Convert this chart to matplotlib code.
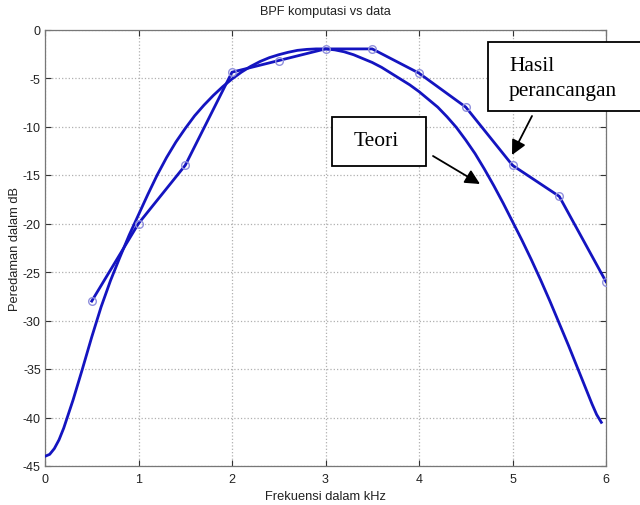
import matplotlib
matplotlib.use("Agg")
import matplotlib.pyplot as plt
from matplotlib.patches import Rectangle, FancyArrowPatch

plt.rcParams["axes.unicode_minus"] = False

# ---- data ----
freq_hasil = [0.5, 1.0, 1.5, 2.0, 2.5, 3.0, 3.5, 4.0, 4.5, 5.0, 5.5, 6.0]
db_hasil = [-28.0, -20.0, -14.0, -4.4, -3.2, -2.0, -2.0, -4.5, -8.0, -14.0, -17.2, -26.0]

freq_teori = [0.0, 0.05, 0.1, 0.15, 0.2, 0.3, 0.4, 0.5, 0.6, 0.7, 0.8, 0.9, 1.0, 1.1, 1.2,
              1.3, 1.4, 1.5, 1.6, 1.7, 1.8, 1.9, 2.0, 2.1, 2.2, 2.3, 2.4, 2.5, 2.6, 2.7,
              2.8, 2.9, 3.0, 3.1, 3.2, 3.3, 3.4, 3.5, 3.6, 3.7, 3.8, 3.9, 4.0, 4.1, 4.2,
              4.3, 4.4, 4.5, 4.6, 4.7, 4.8, 4.9, 5.0, 5.1, 5.2, 5.3, 5.4, 5.5, 5.6, 5.7,
              5.8, 5.85, 5.9, 5.95]
db_teori = [-44.0, -43.8, -43.2, -42.3, -41.1, -38.2, -35.0, -31.7, -28.6, -25.9, -23.5,
            -21.2, -19.1, -17.0, -15.0, -13.2, -11.6, -10.2, -8.9, -7.8, -6.8, -5.9, -5.1,
            -4.4, -3.8, -3.3, -2.9, -2.6, -2.35, -2.15, -2.05, -2.0, -2.0, -2.1, -2.3,
            -2.6, -3.0, -3.4, -3.9, -4.5, -5.1, -5.7, -6.4, -7.2, -8.0, -9.0, -10.1,
            -11.4, -12.8, -14.4, -16.1, -17.9, -19.8, -21.7, -23.7, -25.8, -28.0, -30.3,
            -32.6, -35.0, -37.4, -38.6, -39.7, -40.5]

title = "BPF komputasi vs data"
xlabel = "Frekuensi dalam kHz"
ylabel = "Peredaman dalam dB"
label_hasil = "Hasil\nperancangan"
label_teori = "Teori"

W, H = 640, 506
fig = plt.figure(figsize=(W / 100, H / 100), dpi=100)
fig.patch.set_facecolor("white")

ax = fig.add_axes([45 / W, 1 - 467 / H, (606 - 45) / W, (467 - 30.5) / H])

blue = "#1414c0"
ax.plot(freq_teori, db_teori, color=blue, linewidth=2.0, zorder=3,
        solid_joinstyle="round")
ax.plot(freq_hasil, db_hasil, color=blue, linewidth=2.0, zorder=3,
        solid_joinstyle="round")
ax.plot(freq_hasil, db_hasil, linestyle="none", marker="o", markersize=5.5,
        markerfacecolor="none", markeredgecolor="#9090dd", markeredgewidth=1.0, zorder=4)

ax.set_xlim(0, 6)
ax.set_ylim(-45, 0)
ax.set_xticks(range(0, 7))
ax.set_yticks(range(-45, 1, 5))
ax.grid(True, linestyle=":", color="#b0b0b0", linewidth=0.9)
ax.tick_params(direction="in", length=4, top=True, right=True, labelsize=9,
               colors="#333333", pad=3)
ax.tick_params(axis="x", pad=5)
for sp in ax.spines.values():
    sp.set_color("#777777")
    sp.set_linewidth(0.9)

sans = ["Liberation Sans", "DejaVu Sans"]
for lab in ax.get_xticklabels() + ax.get_yticklabels():
    lab.set_fontfamily(sans)
    lab.set_color("#222222")
ax.set_title(title, fontsize=9.2, family=sans, color="#222222", pad=11)
ax.set_xlabel(xlabel, fontsize=9.3, family=sans, color="#222222", labelpad=4)
ax.set_ylabel(ylabel, fontsize=9.3, family=sans, color="#222222", labelpad=1)


def fx(px):
    return px / W


def fy(py):
    return 1 - py / H


serif = ["Liberation Serif", "DejaVu Serif"]
# Hasil perancangan box (runs off the right edge)
fig.patches.append(Rectangle((fx(488), fy(112)), fx(700) - fx(488), fy(43) - fy(112),
                             transform=fig.transFigure, facecolor="white",
                             edgecolor="black", linewidth=1.3, zorder=10))
fig.text(fx(509), fy(79), label_hasil, fontsize=15.5, family=serif, ha="left",
         va="center", linespacing=1.4, zorder=11)
# Teori box
fig.patches.append(Rectangle((fx(332), fy(167)), fx(426) - fx(332), fy(118) - fy(167),
                             transform=fig.transFigure, facecolor="white",
                             edgecolor="black", linewidth=1.3, zorder=10))
fig.text(fx(376), fy(142), label_teori, fontsize=15.5, family=serif, ha="center",
         va="center", zorder=11)

# arrows
for (x0, y0, x1, y1) in [(433, 157, 480, 185), (532, 117, 512, 156)]:
    fig.patches.append(FancyArrowPatch((fx(x0), fy(y0)), (fx(x1), fy(y1)),
                                       transform=fig.transFigure, arrowstyle="-|>",
                                       mutation_scale=22, color="black",
                                       linewidth=1.3, shrinkA=0, shrinkB=0, zorder=12))

fig.savefig("out.png", dpi=100, facecolor="white")
